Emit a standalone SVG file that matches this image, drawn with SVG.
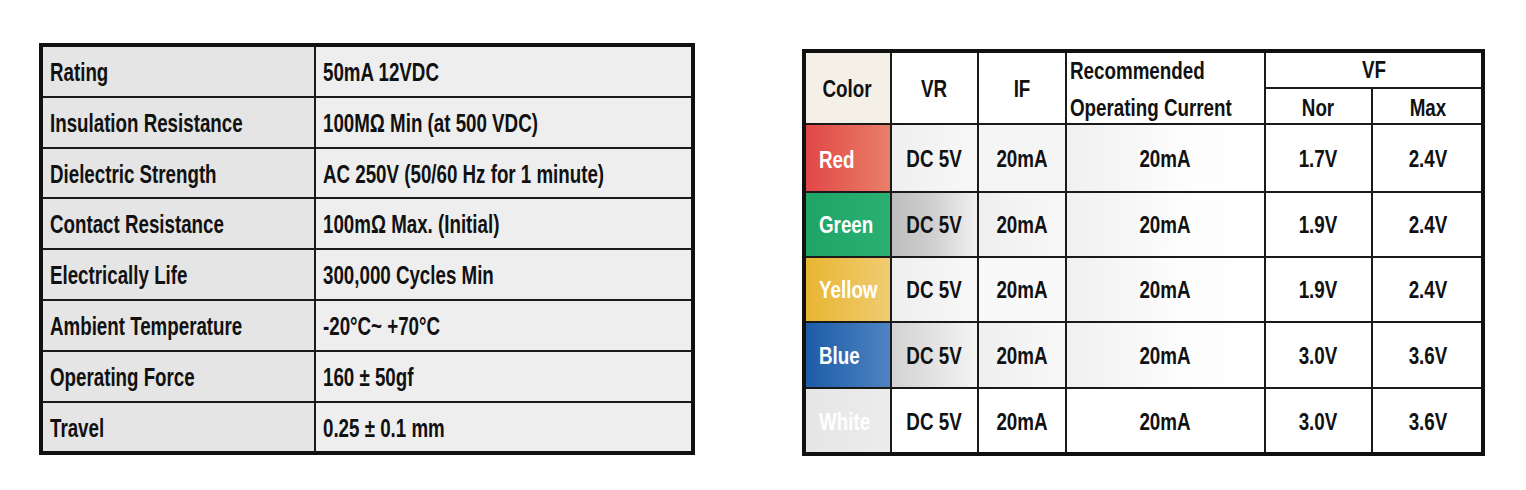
<svg xmlns="http://www.w3.org/2000/svg" width="1526" height="490" viewBox="0 0 1526 490">
<defs>
<style>
text{font-family:"Liberation Sans",Arial,sans-serif;font-weight:bold;fill:#111}
.L{font-size:25px}
.R{font-size:23.5px}
.c{text-anchor:middle}
.w{fill:#fff}
.ln{stroke:#1a1a1a;stroke-width:2;fill:none}
.ob{stroke:#111;stroke-width:4;fill:none}
</style>
<linearGradient id="gRed" x1="0" x2="1"><stop offset="0" stop-color="#e04545"/><stop offset="1" stop-color="#e9806a"/></linearGradient>
<linearGradient id="gGreen" x1="0" x2="1"><stop offset="0" stop-color="#1fa466"/><stop offset="1" stop-color="#2bb074"/></linearGradient>
<linearGradient id="gYellow" x1="0" x2="1"><stop offset="0" stop-color="#e8b530"/><stop offset="1" stop-color="#f0cb72"/></linearGradient>
<linearGradient id="gBlue" x1="0" x2="1"><stop offset="0" stop-color="#1b5ba6"/><stop offset="1" stop-color="#4f84c2"/></linearGradient>
<linearGradient id="gWhite" x1="0" x2="1"><stop offset="0" stop-color="#e6e6e6"/><stop offset="1" stop-color="#ececec"/></linearGradient>
<linearGradient id="gGrayDark" x1="0" x2="1"><stop offset="0" stop-color="#bdbdbd"/><stop offset="0.5" stop-color="#d0d0d0"/><stop offset="1" stop-color="#f2f2f2"/></linearGradient>
<linearGradient id="gGrayMid" x1="0" x2="1"><stop offset="0" stop-color="#d2d2d2"/><stop offset="1" stop-color="#f4f4f4"/></linearGradient>
<linearGradient id="gLight" x1="0" x2="1"><stop offset="0" stop-color="#efefef"/><stop offset="1" stop-color="#f8f8f8"/></linearGradient>
<linearGradient id="gRec" x1="0" x2="1"><stop offset="0" stop-color="#f0f0f0"/><stop offset="0.6" stop-color="#fdfdfd"/><stop offset="1" stop-color="#ffffff"/></linearGradient>
</defs>
<rect width="1526" height="490" fill="#fff"/>

<g id="spec-table">
<rect x="40" y="44" width="275" height="410" fill="#e5e5e5"/>
<rect x="315" y="44" width="379" height="410" fill="#eeeeee"/>
<g class="ln">
<line x1="40" y1="97" x2="694" y2="97"/>
<line x1="40" y1="148" x2="694" y2="148"/>
<line x1="40" y1="198" x2="694" y2="198"/>
<line x1="40" y1="249" x2="694" y2="249"/>
<line x1="40" y1="300" x2="694" y2="300"/>
<line x1="40" y1="351" x2="694" y2="351"/>
<line x1="40" y1="402" x2="694" y2="402"/>
<line x1="315" y1="44" x2="315" y2="454"/>
</g>
<rect class="ob" x="41" y="45" width="652" height="408"/>
<g id="row-rating"><text class="L" transform="matrix(.75 0 0 1 50 81)">Rating</text><text class="L" transform="matrix(.75 0 0 1 323 81)">50mA 12VDC</text></g>
<g id="row-insulation"><text class="L" transform="matrix(.75 0 0 1 50 132)">Insulation Resistance</text><text class="L" transform="matrix(.75 0 0 1 323 132)">100MΩ Min (at 500 VDC)</text></g>
<g id="row-dielectric"><text class="L" transform="matrix(.75 0 0 1 50 183)">Dielectric Strength</text><text class="L" transform="matrix(.75 0 0 1 323 183)">AC 250V (50/60 Hz for 1 minute)</text></g>
<g id="row-contact"><text class="L" transform="matrix(.75 0 0 1 50 233)">Contact Resistance</text><text class="L" transform="matrix(.75 0 0 1 323 233)">100mΩ Max. (Initial)</text></g>
<g id="row-life"><text class="L" transform="matrix(.75 0 0 1 50 284)">Electrically Life</text><text class="L" transform="matrix(.75 0 0 1 323 284)">300,000 Cycles Min</text></g>
<g id="row-temp"><text class="L" transform="matrix(.75 0 0 1 50 335)">Ambient Temperature</text><text class="L" transform="matrix(.75 0 0 1 323 335)">-20°C~ +70°C</text></g>
<g id="row-force"><text class="L" transform="matrix(.75 0 0 1 50 386)">Operating Force</text><text class="L" transform="matrix(.75 0 0 1 323 386)">160 ± 50gf</text></g>
<g id="row-travel"><text class="L" transform="matrix(.75 0 0 1 50 437)">Travel</text><text class="L" transform="matrix(.75 0 0 1 323 437)">0.25 ± 0.1 mm</text></g>
</g>

<g id="led-table">
<rect x="803" y="50" width="681" height="404" fill="#fff"/>
<rect x="803" y="50" width="88" height="74" fill="#f4f0e8"/>
<rect x="803" y="124" width="88" height="68" fill="url(#gRed)"/>
<rect x="803" y="192" width="88" height="65" fill="url(#gGreen)"/>
<rect x="803" y="257" width="88" height="65" fill="url(#gYellow)"/>
<rect x="803" y="322" width="88" height="66" fill="url(#gBlue)"/>
<rect x="803" y="388" width="88" height="66" fill="url(#gWhite)"/>
<rect x="891" y="124" width="87" height="68" fill="url(#gLight)"/>
<rect x="891" y="192" width="87" height="65" fill="url(#gGrayDark)"/>
<rect x="891" y="257" width="87" height="65" fill="url(#gLight)"/>
<rect x="891" y="322" width="87" height="66" fill="url(#gGrayMid)"/>
<rect x="978" y="124" width="88" height="68" fill="#f5f5f5"/>
<rect x="978" y="192" width="88" height="65" fill="url(#gLight)"/>
<rect x="978" y="257" width="88" height="65" fill="#f9f9f9"/>
<rect x="978" y="322" width="88" height="66" fill="url(#gLight)"/>
<rect x="1066" y="124" width="199" height="264" fill="url(#gRec)"/>
<g class="ln">
<line x1="803" y1="124" x2="1484" y2="124"/>
<line x1="803" y1="192" x2="1484" y2="192"/>
<line x1="803" y1="257" x2="1484" y2="257"/>
<line x1="803" y1="322" x2="1484" y2="322"/>
<line x1="803" y1="388" x2="1484" y2="388"/>
<line x1="1265" y1="88" x2="1484" y2="88"/>
<line x1="891" y1="50" x2="891" y2="454"/>
<line x1="978" y1="50" x2="978" y2="454"/>
<line x1="1066" y1="50" x2="1066" y2="454"/>
<line x1="1265" y1="50" x2="1265" y2="454"/>
<line x1="1372" y1="88" x2="1372" y2="454"/>
</g>
<rect class="ob" x="804" y="51" width="679" height="403"/>
<g id="hdr">
<text class="R c" transform="matrix(.8 0 0 1 847 97)">Color</text>
<text class="R c" transform="matrix(.8 0 0 1 934 97)">VR</text>
<text class="R c" transform="matrix(.8 0 0 1 1022 97)">IF</text>
<text class="R" transform="matrix(.8 0 0 1 1070 79)">Recommended</text>
<text class="R" transform="matrix(.8 0 0 1 1070 116)">Operating Current</text>
<text class="R c" transform="matrix(.8 0 0 1 1374 78)">VF</text>
<text class="R c" transform="matrix(.8 0 0 1 1318 116)">Nor</text>
<text class="R c" transform="matrix(.8 0 0 1 1428 116)">Max</text>
</g>
<g id="r-red"><text class="R w" transform="matrix(.8 0 0 1 819 168)">Red</text><text class="R c" transform="matrix(.8 0 0 1 934 167)">DC 5V</text><text class="R c" transform="matrix(.8 0 0 1 1022 167)">20mA</text><text class="R c" transform="matrix(.8 0 0 1 1165 167)">20mA</text><text class="R c" transform="matrix(.8 0 0 1 1318 167)">1.7V</text><text class="R c" transform="matrix(.8 0 0 1 1428 167)">2.4V</text></g>
<g id="r-green"><text class="R w" transform="matrix(.8 0 0 1 819 233)">Green</text><text class="R c" transform="matrix(.8 0 0 1 934 233)">DC 5V</text><text class="R c" transform="matrix(.8 0 0 1 1022 233)">20mA</text><text class="R c" transform="matrix(.8 0 0 1 1165 233)">20mA</text><text class="R c" transform="matrix(.8 0 0 1 1318 233)">1.9V</text><text class="R c" transform="matrix(.8 0 0 1 1428 233)">2.4V</text></g>
<g id="r-yellow"><text class="R w" transform="matrix(.8 0 0 1 819 298)">Yellow</text><text class="R c" transform="matrix(.8 0 0 1 934 298)">DC 5V</text><text class="R c" transform="matrix(.8 0 0 1 1022 298)">20mA</text><text class="R c" transform="matrix(.8 0 0 1 1165 298)">20mA</text><text class="R c" transform="matrix(.8 0 0 1 1318 298)">1.9V</text><text class="R c" transform="matrix(.8 0 0 1 1428 298)">2.4V</text></g>
<g id="r-blue"><text class="R w" transform="matrix(.8 0 0 1 819 364)">Blue</text><text class="R c" transform="matrix(.8 0 0 1 934 364)">DC 5V</text><text class="R c" transform="matrix(.8 0 0 1 1022 364)">20mA</text><text class="R c" transform="matrix(.8 0 0 1 1165 364)">20mA</text><text class="R c" transform="matrix(.8 0 0 1 1318 364)">3.0V</text><text class="R c" transform="matrix(.8 0 0 1 1428 364)">3.6V</text></g>
<g id="r-white"><text class="R w" transform="matrix(.8 0 0 1 819 430)">White</text><text class="R c" transform="matrix(.8 0 0 1 934 430)">DC 5V</text><text class="R c" transform="matrix(.8 0 0 1 1022 430)">20mA</text><text class="R c" transform="matrix(.8 0 0 1 1165 430)">20mA</text><text class="R c" transform="matrix(.8 0 0 1 1318 430)">3.0V</text><text class="R c" transform="matrix(.8 0 0 1 1428 430)">3.6V</text></g>
</g>
</svg>
